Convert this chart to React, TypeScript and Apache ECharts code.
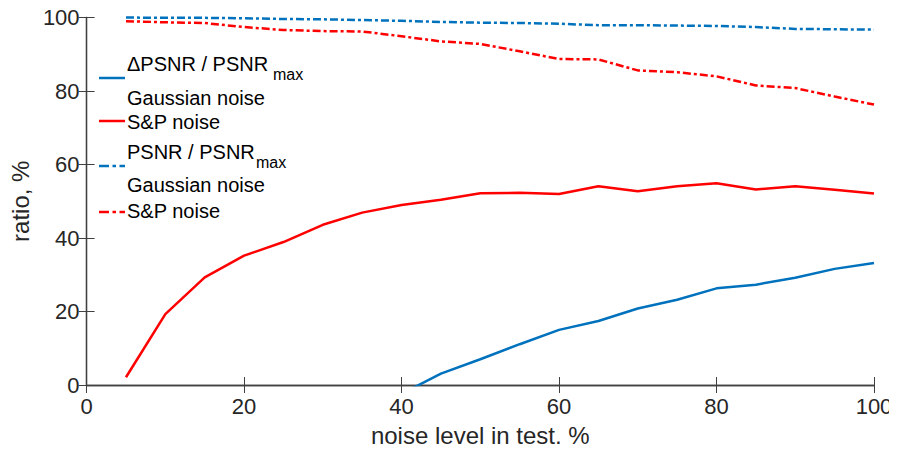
import React, { useEffect, useRef } from 'react';
import * as echarts from 'echarts';

// x positions (noise level in test, %)
const noiseLevels = [5, 10, 15, 20, 25, 30, 35, 40, 45, 50, 55, 60, 65, 70, 75, 80, 85, 90, 95, 100];
const gaussDeltaLevels = [40, 45, 50, 55, 60, 65, 70, 75, 80, 85, 90, 95, 100];

// ΔPSNR / PSNRmax
const gaussDelta = [-2.4, 3.1, 7.0, 11.1, 15.0, 17.4, 20.8, 23.2, 26.3, 27.3, 29.2, 31.6, 33.2];
const spDelta = [2.1, 19.3, 29.3, 35.2, 38.9, 43.6, 46.9, 49.0, 50.4, 52.2, 52.3, 52.0, 54.1, 52.7, 54.1, 54.9, 53.2, 54.1, 53.1, 52.1];

// PSNR / PSNRmax
const gaussRatio = [100, 99.9, 99.9, 99.8, 99.6, 99.5, 99.3, 99.1, 98.8, 98.6, 98.5, 98.3, 97.9, 97.9, 97.8, 97.7, 97.4, 96.9, 96.8, 96.7];
const spRatio = [99.0, 98.7, 98.5, 97.4, 96.6, 96.3, 96.2, 94.9, 93.5, 92.8, 90.8, 88.7, 88.6, 85.6, 85.1, 84.0, 81.5, 80.8, 78.5, 76.3];

const xTicks = [0, 20, 40, 60, 80, 100];
const yTicks = [0, 20, 40, 60, 80, 100];

const BLUE = '#0072BD';
const RED = '#FF0000';
const AXIS = '#404040';
const TEXT = '#262626';
const FONT = '"Liberation Sans", Arial, Helvetica, sans-serif';
const DASHDOT = [8, 3, 3, 3];

const zip = (xs: number[], ys: number[]) => xs.map((x, i) => [x, ys[i]]);

export default function App() {
  const ref = useRef<HTMLDivElement>(null);
  useEffect(() => {
    if (!ref.current) return;
    const chart = echarts.init(ref.current, undefined, { renderer: 'svg' });
    const tickCommon = { show: true, inside: true, length: 8, lineStyle: { color: AXIS, width: 1 } };
    const lineCommon = { show: true, lineStyle: { color: AXIS, width: 1.3 } };
    const legendText = (x: number, y: number, text: string, size = 20) => ({
      type: 'text', x, y,
      style: { text, fill: '#000', font: `${size}px ${FONT}`, textVerticalAlign: 'middle', verticalAlign: 'middle' },
    });
    const legendLine = (y: number, color: string, dash?: number[]) => ({
      type: 'line',
      shape: { x1: 99, y1: y, x2: 125, y2: y },
      style: { stroke: color, lineWidth: 2.5, lineDash: dash || null },
    });
    chart.setOption({
      animation: false,
      backgroundColor: '#fff',
      grid: { left: 84, right: 23, top: 17.5, bottom: 67, containLabel: false },
      xAxis: [
        {
          type: 'value', min: 0, max: 100, interval: 20,
          axisLine: lineCommon, axisTick: tickCommon, splitLine: { show: false },
          axisLabel: {
            color: TEXT, fontSize: 22, fontFamily: FONT, margin: 10,
            formatter: (v: number) => (xTicks.includes(v) ? String(v) : ''),
          },
          name: 'noise level in test, %', nameLocation: 'middle', nameGap: 38,
          nameTextStyle: { color: TEXT, fontSize: 24, fontFamily: FONT },
        },
        {
          type: 'value', position: 'top', min: 0, max: 100, interval: 20,
          axisLine: lineCommon, axisTick: tickCommon, axisLabel: { show: false }, splitLine: { show: false },
        },
      ],
      yAxis: [
        {
          type: 'value', min: 0, max: 100, interval: 20,
          axisLine: lineCommon, axisTick: tickCommon, splitLine: { show: false },
          axisLabel: {
            color: TEXT, fontSize: 22, fontFamily: FONT, margin: 7,
            formatter: (v: number) => (yTicks.includes(v) ? String(v) : ''),
          },
          name: 'ratio, %', nameLocation: 'middle', nameGap: 50,
          nameTextStyle: { color: TEXT, fontSize: 24, fontFamily: FONT },
        },
        {
          type: 'value', position: 'right', min: 0, max: 100, interval: 20,
          axisLine: lineCommon, axisTick: tickCommon, axisLabel: { show: false }, splitLine: { show: false },
        },
      ],
      series: [
        {
          name: 'ΔPSNR Gaussian', type: 'line', data: zip(gaussDeltaLevels, gaussDelta), clip: true,
          showSymbol: false, symbol: 'none', lineStyle: { color: BLUE, width: 2.5 }, z: 3,
        },
        {
          name: 'ΔPSNR S&P', type: 'line', data: zip(noiseLevels, spDelta), clip: false,
          showSymbol: false, symbol: 'none', lineStyle: { color: RED, width: 2.5 }, z: 3,
        },
        {
          name: 'PSNR Gaussian', type: 'line', data: zip(noiseLevels, gaussRatio), clip: false,
          showSymbol: false, symbol: 'none', lineStyle: { color: BLUE, width: 2.5, type: DASHDOT }, z: 3,
        },
        {
          name: 'PSNR S&P', type: 'line', data: zip(noiseLevels, spRatio), clip: false,
          showSymbol: false, symbol: 'none', lineStyle: { color: RED, width: 2.5, type: DASHDOT }, z: 3,
        },
      ],
      graphic: [
        legendLine(78, BLUE),
        legendText(127, 64, 'ΔPSNR / PSNR'),
        legendText(273, 74, 'max', 16),
        legendText(127, 98, 'Gaussian noise'),
        legendLine(121, RED),
        legendText(127, 122, 'S&P noise'),
        legendText(127, 152, 'PSNR / PSNR'),
        legendText(256, 162, 'max', 16),
        legendLine(166, BLUE, [10, 3.5, 3.5, 3.5]),
        legendText(127, 185, 'Gaussian noise'),
        legendLine(212, RED, [10, 3.5, 3.5, 3.5]),
        legendText(127, 211, 'S&P noise'),
      ],
    });
    return () => chart.dispose();
  }, []);
  return <div ref={ref} style={{ width: 897, height: 452, margin: -8 }} />;
}
